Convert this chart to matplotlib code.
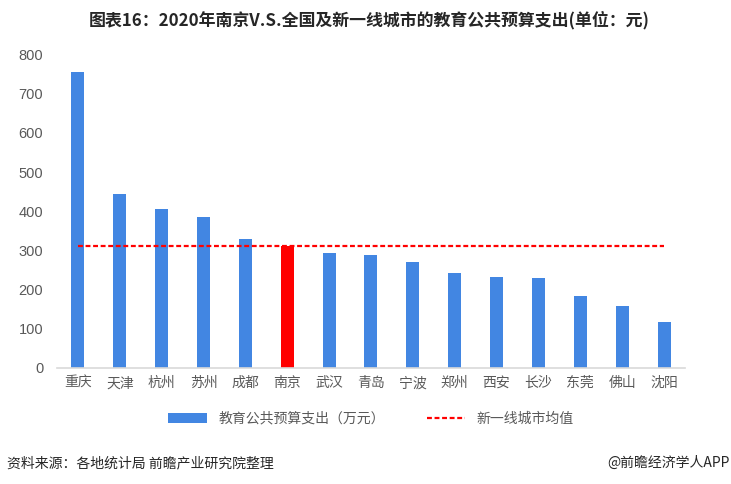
import matplotlib.pyplot as plt
import numpy as np

plt.rcParams['font.family'] = ['Noto Sans CJK SC', 'DejaVu Sans']

cities = ["重庆", "天津", "杭州", "苏州", "成都", "南京", "武汉", "青岛",
          "宁波", "郑州", "西安", "长沙", "东莞", "佛山", "沈阳"]
spending = [756, 443, 405, 385, 329, 310, 293, 288, 270, 242, 232, 229, 183, 158, 117]
city_avg = 311

title = "图表16：2020年南京V.S.全国及新一线城市的教育公共预算支出(单位：元)"
bar_label = "教育公共预算支出（万元）"
avg_label = "新一线城市均值"
source = "资料来源：各地统计局 前瞻产业研究院整理"
brand = "@前瞻经济学人APP"

blue = "#4286E2"
red = "#FF0000"
gray_text = "#595959"

fig = plt.figure(figsize=(7.31, 4.84), dpi=100)
ax = fig.add_axes([0.078, 0.24, 0.859, 0.647])

x = np.arange(len(cities))
colors = [red if c == "南京" else blue for c in cities]
bars = ax.bar(x, spending, width=0.31, color=colors, label=bar_label, zorder=2)
avg_line, = ax.plot([x[0], x[-1]], [city_avg, city_avg], color=red, lw=1.6,
                    dashes=(2.2, 1.2), label=avg_label, zorder=3)

ax.set_xlim(-0.5, len(cities) - 0.5)
ax.set_ylim(0, 800)
ax.set_yticks(range(0, 801, 100))
ax.set_xticks(x)
ax.set_xticklabels(cities)
ax.tick_params(axis='both', length=0, labelsize=10, colors=gray_text)
ax.tick_params(axis='x', pad=6)
ax.tick_params(axis='y', pad=10)
for lab in ax.get_yticklabels():
    lab.set_family('Liberation Sans')
    lab.set_fontsize(10.5)
for s in ["top", "right", "left"]:
    ax.spines[s].set_visible(False)
ax.spines["bottom"].set_color("#D9D9D9")
ax.spines["bottom"].set_linewidth(1.2)

ax.legend([bars, avg_line], [bar_label, avg_label], loc="center",
          bbox_to_anchor=(0.5, -0.163), ncol=2, frameon=False,
          fontsize=10, labelcolor=gray_text, handlelength=2.8, columnspacing=3)

fig.text(0.505, 0.958, title, ha="center", va="center", fontsize=12.2,
         fontweight="bold", color="#262626")
fig.text(0.01, 0.043, source, ha="left", va="center", fontsize=10, color="#262626")
fig.text(0.998, 0.043, brand, ha="right", va="center", fontsize=10, color="#262626")

fig.savefig("out.png", dpi=100)
